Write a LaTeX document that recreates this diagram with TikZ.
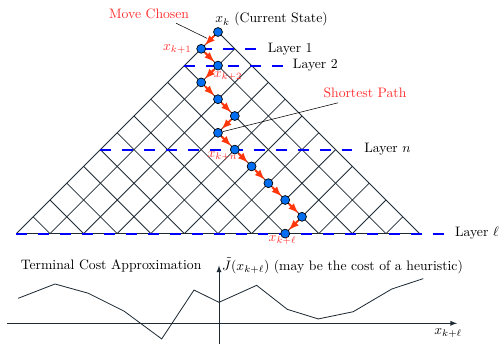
\documentclass[tikz,border=0pt]{standalone}
\usepackage{amsmath, amssymb}
\usepackage{tikz}
\usetikzlibrary{shapes,arrows,positioning}
\definecolor{PathRed}{RGB}{255, 55, 10}
\definecolor{LabelRed}{RGB}{255, 45, 45}
\definecolor{StateBlue}{RGB}{0, 110, 240}
\definecolor{LayerBlue}{RGB}{0, 0, 255}
\definecolor{GridDark}{RGB}{30, 42, 52}

\begin{document}
\begin{tikzpicture}[x=0.431cm, y=0.431cm,
    state/.style={circle, draw=black, fill=StateBlue, inner sep=0pt, minimum size=6.5pt, line width=0.5pt},
    move/.style={-latex, PathRed, line width=1.5pt, shorten >=0.3pt, shorten <=0.5pt},
    layer/.style={draw=LayerBlue, line width=1.4pt, dash pattern=on 8pt off 8pt},
    gridline/.style={GridDark, line width=0.6pt},
    redlabel/.style={text=LabelRed}]
    \useasboundingbox (-12.976,-18.571) rectangle (16.905,1.905);

    % Lattice of states
    \foreach \j in {0,...,11} {
      \draw[gridline] (\j,-\j) -- ({2*\j-12},-12);
      \draw[gridline] (-\j,-\j) -- ({12-2*\j},-12);
    }
    \draw[GridDark, line width=0.8pt] (-12,-12) -- (12,-12);

    % Layers
    \foreach \l/\e/\name/\txt in {1/2.35/lay1/{Layer 1}, 2/3.85/lay2/{Layer 2},
        7/8.1/layn/{Layer $n$}, 12/13.5/layl/{Layer $\ell$}} {
      \draw[layer] (-\l,-\l) -- (\e,-\l);
      \node[anchor=west, xshift=4pt] (\name) at (\e,-\l) {\txt};
    }

    % Shortest path
    \foreach \x [count=\i from 0] in {0,-1,0,-1,0,1,0,1,2,3,4,5,4}
      \node[state] (p\i) at (\x,-\i) {};
    \foreach \i [evaluate=\i as \n using int(\i+1)] in {0,...,11}
      \draw[move] (p\i) -- (p\n);

    % Labels
    \node[anchor=west] (cur) at (-0.45,0.74) {$x_k$ (Current State)};
    \node[redlabel] (mc) at (-4.1,1.11) {Move Chosen};
    \coordinate (mcend) at (-0.65,-0.38);
    \draw[thin] (mc.-20) -- (mcend);
    \node[redlabel, left=0pt of p1] (l1) {$x_{k+1}$};
    \node[redlabel] (l2) at (0.6,-2.6) {$x_{k+2}$};
    \node[redlabel] (ln) at (0.27,-7.4) {$x_{k+n}$};
    \node[redlabel] (ll) at (3.84,-12.4) {$x_{k+\ell}$};
    \node[redlabel] (sp) at (8.75,-3.63) {Shortest Path};
    \draw[thin] (sp.200) -- (p6);

    % Terminal cost approximation
    \draw[-latex, GridDark, line width=0.7pt] (-12.56,-17.34) -- (14.23,-17.34);
    \draw[-latex, GridDark, line width=0.7pt] (0.06,-18.6) -- (0.06,-13.9)
      node[right, black, inner sep=2pt] (jt) {$\tilde J(x_{k+\ell})$ (may be the cost of a heuristic)};
    \node[left] (tca) at (-0.7,-13.95) {Terminal Cost Approximation};
    \node (xl) at (13.7,-17.9) {$x_{k+\ell}$};
    \draw[gridline] plot coordinates {(-11.89,-15.85) (-9.70,-15.0) (-7.72,-15.55)
      (-5.60,-16.61) (-3.35,-18.27) (-1.43,-15.36) (0.06,-16.09) (2.30,-15.08)
      (4.13,-16.51) (5.97,-17.08) (8.05,-16.65) (10.34,-15.30) (12.22,-14.68)};
\end{tikzpicture}
\end{document}
